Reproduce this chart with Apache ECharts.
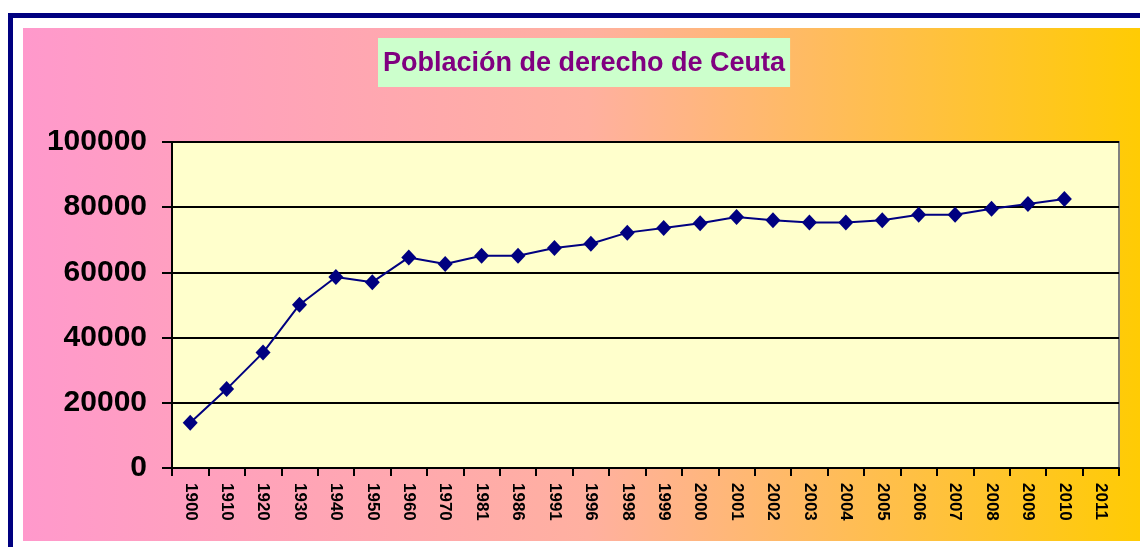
<!DOCTYPE html>
<html>
<head>
<meta charset="utf-8">
<script src="https://cdn.jsdelivr.net/npm/echarts@6/dist/echarts.min.js"></script>
<style>
  html, body { margin: 0; padding: 0; background: #ffffff; }
  #main { width: 1140px; height: 547px; }
</style>
</head>
<body>
<div id="main"></div>
<script>
// años (eje de categorías)
var years = ['1900', '1910', '1920', '1930', '1940', '1950', '1960', '1970', '1981', '1986',
    '1991', '1996', '1998', '1999', '2000', '2001', '2002', '2003', '2004', '2005',
    '2006', '2007', '2008', '2009', '2010', '2011'];
// población de derecho (2011 sin dato)
var population = [13900, 24200, 35400, 50100, 58600, 57000, 64600, 62600, 65100, 65100,
    67500, 68800, 72200, 73600, 75100, 77000, 76000, 75300, 75300, 76000,
    77700, 77700, 79500, 81000, 82500, null];
var yTicks = [0, 20000, 40000, 60000, 80000, 100000];

var myChart = echarts.init(document.getElementById('main'));

var option = {
    animation: false,
    backgroundColor: '#ffffff',
    graphic: [
        {   // fondo degradado
            type: 'rect',
            z: -10,
            shape: { x: 23, y: 28, width: 1130, height: 513 },
            style: {
                fill: new echarts.graphic.LinearGradient(0, 0, 1, 0, [
                    { offset: 0, color: '#ff99cc' },
                    { offset: 0.5, color: '#ffb0a0' },
                    { offset: 1, color: '#ffcc00' }
                ])
            }
        },
        {   // marco azul exterior
            type: 'rect',
            z: -10,
            shape: { x: 10.5, y: 15.5, width: 1200, height: 600 },
            style: { fill: null, stroke: '#000080', lineWidth: 5 }
        }
    ],
    title: {
        text: 'Población de derecho de Ceuta',
        left: 378,
        top: 38,
        backgroundColor: '#ccffcc',
        padding: [12, 5, 10, 5],
        textStyle: {
            color: '#800080',
            fontFamily: 'Arial, "Liberation Sans", sans-serif',
            fontWeight: 'bold',
            fontSize: 27,
            lineHeight: 27
        }
    },
    grid: {
        left: 172,
        top: 142,
        right: 21,
        bottom: 79,
        show: true,
        backgroundColor: '#ffffcc',
        borderColor: '#808080',
        borderWidth: 2
    },
    xAxis: {
        type: 'category',
        data: years,
        boundaryGap: true,
        axisLine: { lineStyle: { color: '#000000', width: 2 } },
        axisTick: { show: true, length: 8, lineStyle: { color: '#000000', width: 2 } },
        axisLabel: {
            rotate: -90,
            margin: 15,
            interval: 0,
            color: '#000000',
            fontFamily: 'Arial, "Liberation Sans", sans-serif',
            fontWeight: 'bold',
            fontSize: 17
        }
    },
    yAxis: {
        type: 'value',
        min: yTicks[0],
        max: yTicks[yTicks.length - 1],
        interval: yTicks[1] - yTicks[0],
        axisLine: { show: true, lineStyle: { color: '#000000', width: 2 } },
        axisTick: { show: true, length: 10, lineStyle: { color: '#000000', width: 2 } },
        splitLine: { show: true, lineStyle: { color: '#000000', width: 2 } },
        axisLabel: {
            margin: 25,
            formatter: function (v) { return String(v); },
            color: '#000000',
            fontFamily: 'Arial, "Liberation Sans", sans-serif',
            fontWeight: 'bold',
            fontSize: 30
        }
    },
    series: [{
        type: 'line',
        name: 'Población',
        data: population,
        symbol: 'diamond',
        symbolSize: [15, 16],
        lineStyle: { color: '#000080', width: 2 },
        itemStyle: { color: '#000080' }
    }]
};

myChart.setOption(option);
</script>
</body>
</html>
